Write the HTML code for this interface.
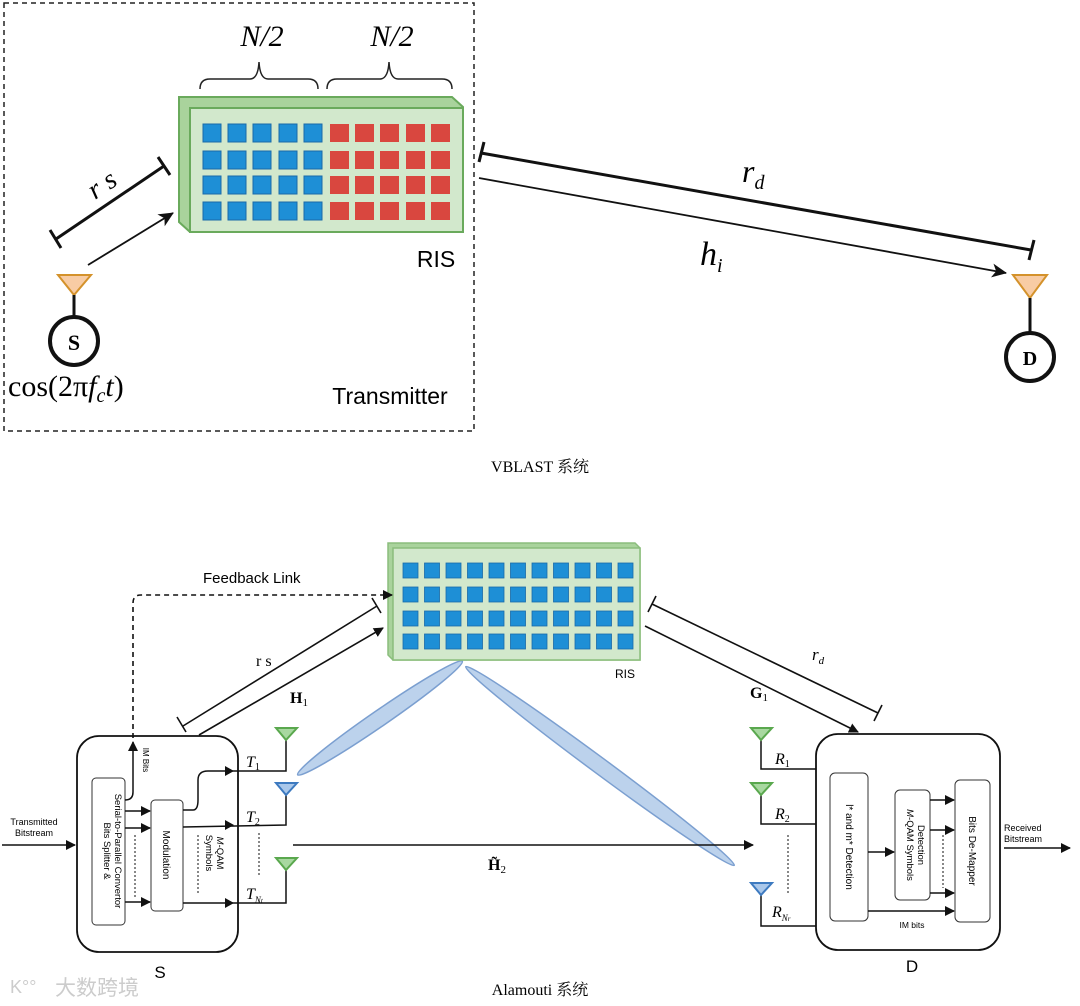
<!DOCTYPE html>
<html><head><meta charset="utf-8"><style>
body{margin:0;background:#fff}
svg{display:block}
.s{font-family:"Liberation Sans",sans-serif}
.r{font-family:"Liberation Serif","Noto Serif CJK SC",serif}
</style></head><body>
<svg width="1080" height="1006" viewBox="0 0 1080 1006" xmlns="http://www.w3.org/2000/svg">
<defs>
<marker id="a" markerWidth="10" markerHeight="10" refX="9" refY="5" orient="auto" markerUnits="userSpaceOnUse"><path d="M0,0 L10,5 L0,10 z" fill="#111"/></marker>
<marker id="b" markerWidth="16" markerHeight="16" refX="14" refY="8" orient="auto" markerUnits="userSpaceOnUse"><path d="M0,1 L15,8 L0,15 L4,8 z" fill="#111"/></marker>
</defs>
<!-- TOP -->
<rect x="4" y="3" width="470" height="428" fill="none" stroke="#222" stroke-width="1.5" stroke-dasharray="5,4"/>
<text x="262" y="46" class="r" font-style="italic" font-size="30" text-anchor="middle">N/2</text>
<text x="392" y="46" class="r" font-style="italic" font-size="30" text-anchor="middle">N/2</text>
<path d="M200,89 Q200,79 210,79 L250,79 Q258,79 259,62 Q260,79 268,79 L308,79 Q318,79 318,89" fill="none" stroke="#222" stroke-width="1.5"/>
<path d="M327,89 Q327,79 337,79 L380,79 Q388,79 389,62 Q390,79 398,79 L442,79 Q452,79 452,89" fill="none" stroke="#222" stroke-width="1.5"/>
<polygon points="179,97 452,97 463,107 463,232 190,232 179,222" fill="#a9d39c" stroke="#6aaa5c" stroke-width="2"/>
<rect x="190" y="108" width="273" height="124" fill="#d2e8cc" stroke="#6aaa5c" stroke-width="2"/>
<g stroke="#1a6aa8" stroke-width="1" fill="#1e8fd6">
<rect x="203" y="124" width="18" height="18"/><rect x="228" y="124" width="18" height="18"/><rect x="253" y="124" width="18" height="18"/><rect x="279" y="124" width="18" height="18"/><rect x="304" y="124" width="18" height="18"/>
<rect x="203" y="151" width="18" height="18"/><rect x="228" y="151" width="18" height="18"/><rect x="253" y="151" width="18" height="18"/><rect x="279" y="151" width="18" height="18"/><rect x="304" y="151" width="18" height="18"/>
<rect x="203" y="176" width="18" height="18"/><rect x="228" y="176" width="18" height="18"/><rect x="253" y="176" width="18" height="18"/><rect x="279" y="176" width="18" height="18"/><rect x="304" y="176" width="18" height="18"/>
<rect x="203" y="202" width="18" height="18"/><rect x="228" y="202" width="18" height="18"/><rect x="253" y="202" width="18" height="18"/><rect x="279" y="202" width="18" height="18"/><rect x="304" y="202" width="18" height="18"/>
</g>
<g fill="#d9473f">
<rect x="330" y="124" width="19" height="18"/><rect x="355" y="124" width="19" height="18"/><rect x="380" y="124" width="19" height="18"/><rect x="406" y="124" width="19" height="18"/><rect x="431" y="124" width="19" height="18"/>
<rect x="330" y="151" width="19" height="18"/><rect x="355" y="151" width="19" height="18"/><rect x="380" y="151" width="19" height="18"/><rect x="406" y="151" width="19" height="18"/><rect x="431" y="151" width="19" height="18"/>
<rect x="330" y="176" width="19" height="18"/><rect x="355" y="176" width="19" height="18"/><rect x="380" y="176" width="19" height="18"/><rect x="406" y="176" width="19" height="18"/><rect x="431" y="176" width="19" height="18"/>
<rect x="330" y="202" width="19" height="18"/><rect x="355" y="202" width="19" height="18"/><rect x="380" y="202" width="19" height="18"/><rect x="406" y="202" width="19" height="18"/><rect x="431" y="202" width="19" height="18"/>
</g>
<text x="436" y="267" class="s" font-size="23" text-anchor="middle">RIS</text>
<line x1="56" y1="239" x2="164" y2="166" stroke="#111" stroke-width="3"/>
<line x1="50" y1="230" x2="61" y2="248" stroke="#111" stroke-width="3"/>
<line x1="158" y1="157" x2="170" y2="175" stroke="#111" stroke-width="3"/>
<text x="95" y="200" class="r" font-style="italic" font-size="28" transform="rotate(-34 95 200)">r s</text>
<line x1="88" y1="265" x2="173" y2="213" stroke="#111" stroke-width="1.8" marker-end="url(#b)"/>
<polygon points="58,275 91,275 74,295" fill="#f8cca4" stroke="#d4922b" stroke-width="2"/>
<line x1="74" y1="295" x2="74" y2="316" stroke="#111" stroke-width="3"/>
<circle cx="74" cy="341" r="24" fill="#fff" stroke="#111" stroke-width="4"/>
<text x="74" y="350" class="r" font-size="22" font-weight="bold" text-anchor="middle">S</text>
<text x="8" y="396" class="r" font-size="30">cos(2π<tspan font-style="italic">f</tspan><tspan font-style="italic" font-size="20" dy="6">c</tspan><tspan font-style="italic" dy="-6">t</tspan>)</text>
<text x="390" y="404" class="s" font-size="23" text-anchor="middle">Transmitter</text>
<line x1="481" y1="153" x2="1031" y2="250" stroke="#111" stroke-width="3"/>
<line x1="484" y1="142" x2="479" y2="162" stroke="#111" stroke-width="3"/>
<line x1="1034" y1="240" x2="1029" y2="260" stroke="#111" stroke-width="3"/>
<text x="742" y="182" class="r" font-style="italic" font-size="32">r<tspan font-size="20" dy="7">d</tspan></text>
<line x1="479" y1="178" x2="1006" y2="273" stroke="#111" stroke-width="1.8" marker-end="url(#b)"/>
<text x="700" y="265" class="r" font-style="italic" font-size="34">h<tspan font-size="20" dy="7">i</tspan></text>
<polygon points="1013,275 1047,275 1030,298" fill="#f8cca4" stroke="#d4922b" stroke-width="2"/>
<line x1="1030" y1="298" x2="1030" y2="332" stroke="#111" stroke-width="3"/>
<circle cx="1030" cy="357" r="24" fill="#fff" stroke="#111" stroke-width="4"/>
<text x="1030" y="365" class="r" font-size="20" font-weight="bold" text-anchor="middle">D</text>
<text x="540" y="472" class="r" font-size="16" text-anchor="middle">VBLAST 系统</text>

<!-- BOTTOM -->
<ellipse cx="380" cy="718" rx="100" ry="8" transform="rotate(-34.6 380 718)" fill="#bcd2ec" stroke="#7b9fd0" stroke-width="1.5"/>
<ellipse cx="600" cy="766" rx="167" ry="8" transform="rotate(36.5 600 766)" fill="#bcd2ec" stroke="#7b9fd0" stroke-width="1.5"/>
<polygon points="388,543 635,543 640,548 640,660 393,660 388,655" fill="#a9d39c" stroke="#8bbd7d" stroke-width="1.5"/>
<rect x="393" y="548" width="247" height="112" fill="#d2e8cc" stroke="#8bbd7d" stroke-width="1.5"/>
<g fill="#1e8fd6" stroke="#1a6aa8" stroke-width="0.8" id="g1">
<rect x="403" y="563" width="15" height="15"/><rect x="424.5" y="563" width="15" height="15"/><rect x="446" y="563" width="15" height="15"/><rect x="467.5" y="563" width="15" height="15"/><rect x="489" y="563" width="15" height="15"/><rect x="510.5" y="563" width="15" height="15"/><rect x="532" y="563" width="15" height="15"/><rect x="553.5" y="563" width="15" height="15"/><rect x="575" y="563" width="15" height="15"/><rect x="596.5" y="563" width="15" height="15"/><rect x="618" y="563" width="15" height="15"/>
</g>
<use href="#g1" y="24"/><use href="#g1" y="48"/><use href="#g1" y="71"/>
<text x="625" y="678" class="s" font-size="12" text-anchor="middle">RIS</text>
<text x="203" y="583" class="s" font-size="15">Feedback Link</text>
<path d="M133,738 L133,603 Q133,595 141,595 L392,595" fill="none" stroke="#111" stroke-width="1.6" stroke-dasharray="5,4" marker-end="url(#a)"/>
<line x1="183" y1="726" x2="377" y2="606" stroke="#111" stroke-width="1.6"/>
<line x1="177" y1="717" x2="186" y2="732" stroke="#111" stroke-width="1.6"/>
<line x1="372" y1="598" x2="381" y2="613" stroke="#111" stroke-width="1.6"/>
<line x1="199" y1="735" x2="383" y2="628" stroke="#111" stroke-width="1.6" marker-end="url(#a)"/>
<text x="256" y="666" class="r" font-size="16">r s</text>
<text x="290" y="703" class="r" font-size="16" font-weight="bold">H<tspan font-size="11" dy="3" font-weight="normal">1</tspan></text>
<line x1="652" y1="604" x2="878" y2="713" stroke="#111" stroke-width="1.6"/>
<line x1="656" y1="596" x2="648" y2="612" stroke="#111" stroke-width="1.6"/>
<line x1="882" y1="705" x2="874" y2="721" stroke="#111" stroke-width="1.6"/>
<line x1="645" y1="626" x2="858" y2="732" stroke="#111" stroke-width="1.6" marker-end="url(#a)"/>
<text x="812" y="660" class="r" font-style="italic" font-size="17">r<tspan font-size="11" dy="4">d</tspan></text>
<text x="750" y="698" class="r" font-size="16" font-weight="bold">G<tspan font-size="11" dy="3" font-weight="normal">1</tspan></text>
<!-- S box -->
<rect x="77" y="736" width="161" height="216" rx="22" fill="none" stroke="#111" stroke-width="1.8"/>
<rect x="92" y="778" width="33" height="147" rx="4" fill="#fff" stroke="#333"/>
<rect x="151" y="800" width="32" height="111" rx="4" fill="#fff" stroke="#333"/>
<text transform="translate(104,851) rotate(90)" class="s" font-size="9.5" text-anchor="middle">Bits Splitter &amp;</text>
<text transform="translate(115,851) rotate(90)" class="s" font-size="9.5" text-anchor="middle">Serial-to-Parallel Convertor</text>
<text transform="translate(163,855) rotate(90)" class="s" font-size="10" text-anchor="middle">Modulation</text>
<text transform="translate(217,853) rotate(90)" class="s" font-size="9.5" text-anchor="middle"><tspan font-style="italic">M</tspan>-QAM</text>
<text transform="translate(206,853) rotate(90)" class="s" font-size="9.5" text-anchor="middle">Symbols</text>
<path d="M125,800 Q133,800 133,792 L133,742" fill="none" stroke="#111" stroke-width="1.5" marker-end="url(#a)"/>
<text transform="translate(143,760) rotate(90)" class="s" font-size="8" text-anchor="middle">IM Bits</text>
<line x1="125" y1="811" x2="150" y2="811" stroke="#111" stroke-width="1.5" marker-end="url(#a)"/>
<line x1="125" y1="828" x2="150" y2="828" stroke="#111" stroke-width="1.5" marker-end="url(#a)"/>
<line x1="125" y1="902" x2="150" y2="902" stroke="#111" stroke-width="1.5" marker-end="url(#a)"/>
<line x1="135" y1="835" x2="135" y2="897" stroke="#111" stroke-dasharray="2,2"/>
<line x1="198" y1="835" x2="198" y2="895" stroke="#111" stroke-dasharray="2,2"/>
<line x1="259" y1="833" x2="259" y2="876" stroke="#111" stroke-dasharray="2,2"/>
<path d="M183,810 L193,810 Q198,810 198,800 L198,780 Q198,771 208,771 L286,771 L286,738" fill="none" stroke="#111" stroke-width="1.5"/>
<path d="M183,827 L286,825 L286,793" fill="none" stroke="#111" stroke-width="1.5"/>
<path d="M183,903 L286,903 L286,868" fill="none" stroke="#111" stroke-width="1.5"/>
<path d="M234,771 L225,766 L225,776z M234,825 L225,820 L225,830z M234,903 L225,898 L225,908z" fill="#111"/>
<text x="246" y="767" class="r" font-style="italic" font-size="16">T<tspan font-size="10" dy="3" font-style="normal">1</tspan></text>
<text x="246" y="822" class="r" font-style="italic" font-size="16">T<tspan font-size="10" dy="3" font-style="normal">2</tspan></text>
<text x="246" y="899" class="r" font-style="italic" font-size="16">T<tspan font-size="9" dy="4">N<tspan font-size="7">t</tspan></tspan></text>
<polygon points="276,728 297,728 286,740" fill="#a8d8a0" stroke="#5aa84e" stroke-width="2"/>
<polygon points="276,783 297,783 286,795" fill="#a9c7ea" stroke="#3d7ac0" stroke-width="2"/>
<polygon points="276,858 297,858 286,870" fill="#a8d8a0" stroke="#5aa84e" stroke-width="2"/>
<line x1="2" y1="845" x2="75" y2="845" stroke="#111" stroke-width="1.5" marker-end="url(#a)"/>
<text x="34" y="825" class="s" font-size="9" text-anchor="middle">Transmitted</text>
<text x="34" y="836" class="s" font-size="9" text-anchor="middle">Bitstream</text>
<text x="160" y="978" class="s" font-size="17" text-anchor="middle">S</text>
<line x1="293" y1="845" x2="753" y2="845" stroke="#111" stroke-width="1.5" marker-end="url(#a)"/>
<text x="488" y="870" class="r" font-size="16" font-weight="bold">H̃<tspan font-size="11" dy="3" font-weight="normal">2</tspan></text>
<!-- D box -->
<rect x="816" y="734" width="184" height="216" rx="22" fill="none" stroke="#111" stroke-width="1.8"/>
<rect x="830" y="773" width="38" height="148" rx="5" fill="#fff" stroke="#333"/>
<rect x="895" y="790" width="35" height="110" rx="5" fill="#fff" stroke="#333"/>
<rect x="955" y="780" width="35" height="142" rx="5" fill="#fff" stroke="#333"/>
<text transform="translate(846,847) rotate(90)" class="s" font-size="10" text-anchor="middle">l* and m* Detection</text>
<text transform="translate(907,845) rotate(90)" class="s" font-size="9.5" text-anchor="middle"><tspan font-style="italic">M</tspan>-QAM Symbols</text>
<text transform="translate(918,845) rotate(90)" class="s" font-size="9.5" text-anchor="middle">Detection</text>
<text transform="translate(969,851) rotate(90)" class="s" font-size="10" text-anchor="middle">Bits De-Mapper</text>
<line x1="868" y1="852" x2="894" y2="852" stroke="#111" stroke-width="1.5" marker-end="url(#a)"/>
<line x1="930" y1="800" x2="954" y2="800" stroke="#111" stroke-width="1.5" marker-end="url(#a)"/>
<line x1="930" y1="830" x2="954" y2="830" stroke="#111" stroke-width="1.5" marker-end="url(#a)"/>
<line x1="930" y1="893" x2="954" y2="893" stroke="#111" stroke-width="1.5" marker-end="url(#a)"/>
<line x1="943" y1="835" x2="943" y2="888" stroke="#111" stroke-dasharray="2,2"/>
<line x1="868" y1="911" x2="954" y2="911" stroke="#111" stroke-width="1.5" marker-end="url(#a)"/>
<text x="912" y="928" class="s" font-size="8.5" text-anchor="middle">IM bits</text>
<line x1="1004" y1="848" x2="1070" y2="848" stroke="#111" stroke-width="1.5" marker-end="url(#a)"/>
<text x="1004" y="831" class="s" font-size="9">Received</text>
<text x="1004" y="842" class="s" font-size="9">Bitstream</text>
<text x="912" y="972" class="s" font-size="17" text-anchor="middle">D</text>
<path d="M761,740 L761,769 L816,769 M761,795 L761,824 L816,824 M761,895 L761,926 L816,926" fill="none" stroke="#111" stroke-width="1.5"/>
<line x1="788" y1="835" x2="788" y2="895" stroke="#111" stroke-dasharray="2,2"/>
<polygon points="751,728 772,728 761,740" fill="#a8d8a0" stroke="#5aa84e" stroke-width="2"/>
<polygon points="751,783 772,783 761,795" fill="#a8d8a0" stroke="#5aa84e" stroke-width="2"/>
<polygon points="751,883 772,883 761,895" fill="#a9c7ea" stroke="#3d7ac0" stroke-width="2"/>
<text x="775" y="764" class="r" font-style="italic" font-size="16">R<tspan font-size="10" dy="3" font-style="normal">1</tspan></text>
<text x="775" y="819" class="r" font-style="italic" font-size="16">R<tspan font-size="10" dy="3" font-style="normal">2</tspan></text>
<text x="772" y="917" class="r" font-style="italic" font-size="16">R<tspan font-size="9" dy="4">N<tspan font-size="7">r</tspan></tspan></text>
<text x="540" y="995" class="r" font-size="16" text-anchor="middle">Alamouti 系统</text>
<text x="55" y="995" font-size="21" fill="#ccc" style="font-family:'Liberation Sans','Noto Sans CJK SC',sans-serif">大数跨境</text>
<text x="10" y="993" class="s" font-size="18" fill="#ccc">K°°</text>
</svg>
</body></html>
